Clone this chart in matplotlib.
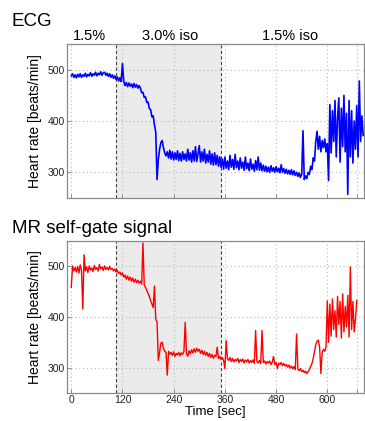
import numpy as np
import matplotlib
matplotlib.use("Agg")
import matplotlib.pyplot as plt

plt.rcParams['font.family'] = ['Liberation Sans', 'DejaVu Sans']

# sampling step of both traces (seconds)
step_sec = 3

ecg_hr = [
    488, 492, 485, 490, 484, 491, 486, 492, 485, 490,
    487, 493, 486, 491, 488, 494, 487, 492, 489, 495,
    488, 493, 490, 496, 489, 494, 495, 489, 493, 487,
    492, 485, 490, 483, 488, 481, 486, 478, 484, 477,
    512, 477, 469, 475, 467, 474, 468, 472, 465, 473,
    466, 471, 464, 469, 464, 455, 456, 446, 447, 436,
    437, 424, 422, 408, 410, 392, 378, 286, 325, 345,
    358, 362, 348, 338, 332, 340, 328, 343, 326, 340,
    324, 338, 325, 342, 323, 337, 322, 340, 325, 336,
    322, 345, 324, 338, 320, 342, 322, 350, 321, 337,
    352, 320, 340, 322, 345, 318, 335, 320, 342, 316,
    336, 314, 338, 315, 333, 312, 330, 310, 326, 306,
    330, 308, 322, 305, 333, 310, 325, 306, 335, 309,
    322, 305, 328, 308, 320, 304, 330, 307, 318, 303,
    326, 306, 316, 302, 323, 305, 330, 304, 318, 303,
    314, 302, 312, 301, 310, 300, 313, 302, 309, 300,
    311, 301, 308, 299, 315, 300, 307, 298, 306, 297,
    304, 296, 305, 295, 303, 294, 300, 292, 299, 290,
    296, 381, 286, 293, 288, 300, 296, 312, 305, 328,
    322, 360, 380, 345, 370, 340, 362, 348, 365, 340,
    356, 284, 432, 338, 420, 360, 440, 330, 405, 445,
    320, 425, 350, 450, 340, 415, 257, 440, 330, 420,
    318, 400, 345, 430, 330, 478, 360, 410, 372,
]

mr_hr = [
    458, 500, 490, 497, 488, 499, 486, 502, 492, 415,
    522, 490, 498, 487, 500, 492, 496, 489, 501, 493,
    497, 490, 503, 494, 498, 491, 500, 493, 497, 492,
    499, 493, 495, 490, 494, 488, 491, 485, 488, 482,
    486, 478, 482, 474, 480, 472, 478, 470, 476, 468,
    474, 467, 472, 466, 470, 464, 545, 462, 458, 452,
    446, 440, 432, 425, 418, 460, 395, 390, 314, 330,
    348, 350, 338, 332, 330, 285, 332, 326, 330, 324,
    331, 322, 328, 325, 330, 323, 329, 326, 332, 389,
    328, 322, 333, 327, 335, 329, 337, 330, 338, 332,
    336, 328, 334, 326, 332, 324, 330, 322, 328, 320,
    326, 318, 324, 322, 340, 318, 322, 316, 320, 314,
    298, 353, 318, 314, 320, 312, 318, 311, 316, 313,
    318, 310, 316, 312, 317, 309, 315, 311, 316, 309,
    314, 310, 315, 308, 373, 312, 309, 314, 308, 373,
    310, 313, 307, 312, 309, 313, 306, 311, 322, 306,
    310, 298, 309, 306, 310, 304, 308, 303, 306, 301,
    305, 299, 303, 298, 302, 296, 366, 297, 294, 298,
    292, 295, 290, 293, 288, 292, 296, 302, 308, 318,
    332, 345, 352, 354, 340, 288, 330, 336, 332, 340,
    431, 350, 425, 362, 435, 375, 412, 360, 440, 385,
    430, 358, 445, 370, 420, 380, 442, 360, 498, 375,
    430, 370, 395, 432,
]

ecg_t = np.arange(len(ecg_hr)) * step_sec
mr_t = np.arange(len(mr_hr)) * step_sec

iso_switch = [104, 351]          # dashed lines / shaded 3.0% phase
phase_labels = ["1.5%", "3.0% iso", "1.5% iso"]
phase_centers = [42, 232, 512]
x_ticks = [0, 120, 240, 360, 480, 600]
y_ticks = [300, 400, 500]
xlim = (-10, 686)
ylim = (250, 550)

W, H = 365, 421
fig = plt.figure(figsize=(W / 100, H / 100), dpi=100)

ax1 = fig.add_axes([67 / W, 1 - 198 / H, 297 / W, 154 / H])
ax2 = fig.add_axes([67 / W, 1 - 393 / H, 297 / W, 152.5 / H])

spine_c = '#8a8a8a'
for ax in (ax1, ax2):
    ax.axvspan(iso_switch[0], iso_switch[1], color='#ebebeb', zorder=0, lw=0)
    for xv in iso_switch:
        ax.axvline(xv, color='#444444', ls=(0, (3, 2)), lw=0.8, zorder=1)
    ax.set_xlim(*xlim)
    ax.set_ylim(*ylim)
    ax.set_xticks(x_ticks)
    ax.set_xticks([670], minor=True)
    ax.set_yticks(y_ticks)
    ax.grid(True, which='both', ls=(0, (1, 2.5)), color='#b8b8b8', lw=0.8, zorder=0.5)
    ax.set_axisbelow(True)
    for s in ax.spines.values():
        s.set_color(spine_c)
        s.set_linewidth(0.9)
    ax.tick_params(direction='in', length=3, width=0.7, color=spine_c,
                   labelsize=7.5, pad=1.5, labelcolor='#222222')
    ax.tick_params(which='minor', direction='in', length=3, width=0.7, color=spine_c)
    ax.set_ylabel("Heart rate [beats/min]", fontsize=10, labelpad=4)

ax1.plot(ecg_t, ecg_hr, color='#0000ff', lw=1.2, zorder=3)
ax1.tick_params(labelbottom=False)
for lbl, xc in zip(phase_labels, phase_centers):
    ax1.text(xc, 1.005, lbl, transform=ax1.get_xaxis_transform(),
             ha='center', va='bottom', fontsize=10.5)

ax2.plot(mr_t, mr_hr, color='#ff0000', lw=1.0, zorder=3)
ax2.set_xlabel("Time [sec]", fontsize=9.5, labelpad=1)

fig.text(12 / W, 1 - 26 / H, "ECG", fontsize=13.5, ha='left', va='baseline')
fig.text(12 / W, 1 - 233 / H, "MR self-gate signal", fontsize=13.5, ha='left', va='baseline')

fig.savefig("out.png", dpi=100)
